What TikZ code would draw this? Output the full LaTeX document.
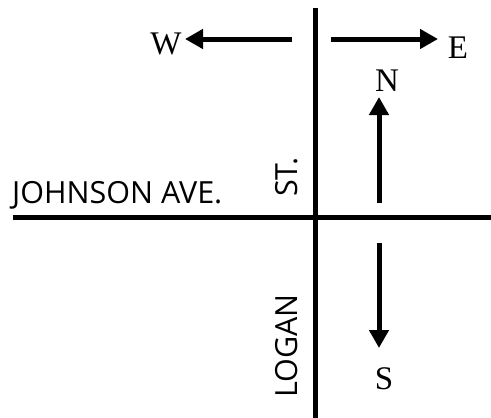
\documentclass[tikz,border=0pt]{standalone}
\usepackage{fontspec}
\setmainfont{Liberation Serif}
\newfontfamily\streetfont{Open Sans}
\usetikzlibrary{arrows.meta}
\tikzset{
  road/.style={line width=5pt},
  compass/.style={line width=5pt,-{Triangle[length=18pt,width=19pt]}},
  dirlabel/.style={inner sep=0pt,font=\fontsize{33}{33}\selectfont},
  streetlabel/.style={inner sep=0pt,font=\streetfont\fontsize{30.5}{31}\selectfont},
}
\begin{document}
\begin{tikzpicture}[x=1pt,y=-1pt]
\useasboundingbox (0,0) rectangle (491,418);
% roads
\coordinate (vtop) at (315,8);
\coordinate (vbot) at (315,418);
\coordinate (hleft) at (13,217);
\coordinate (hright) at (491,217);
\draw[road] (vtop) -- (vbot);
\draw[road] (hleft) -- (hright);
% street names
\node[streetlabel,anchor=base west] (johnson) at (12,203) {JOHNSON AVE.};
\node[streetlabel,anchor=base west,rotate=90] (st) at (297,197) {ST.};
\node[streetlabel,anchor=base west,rotate=90] (logan) at (297,398) {LOGAN};
% compass labels
\node[dirlabel] (W) at (166,44) {W};
\node[dirlabel] (E) at (458,48) {E};
\node[dirlabel] (N) at (387,81) {N};
\node[dirlabel] (S) at (384,379) {S};
% compass arrows
\coordinate (w0) at (292,39);
\coordinate (w1) at (185,39);
\coordinate (e0) at (331,39);
\coordinate (e1) at (438,39);
\coordinate (n0) at (379,203);
\coordinate (n1) at (379,97);
\coordinate (s0) at (379,243);
\coordinate (s1) at (379,348);
\draw[compass] (w0) -- (w1);
\draw[compass] (e0) -- (e1);
\draw[compass] (n0) -- (n1);
\draw[compass] (s0) -- (s1);
\end{tikzpicture}
\end{document}
